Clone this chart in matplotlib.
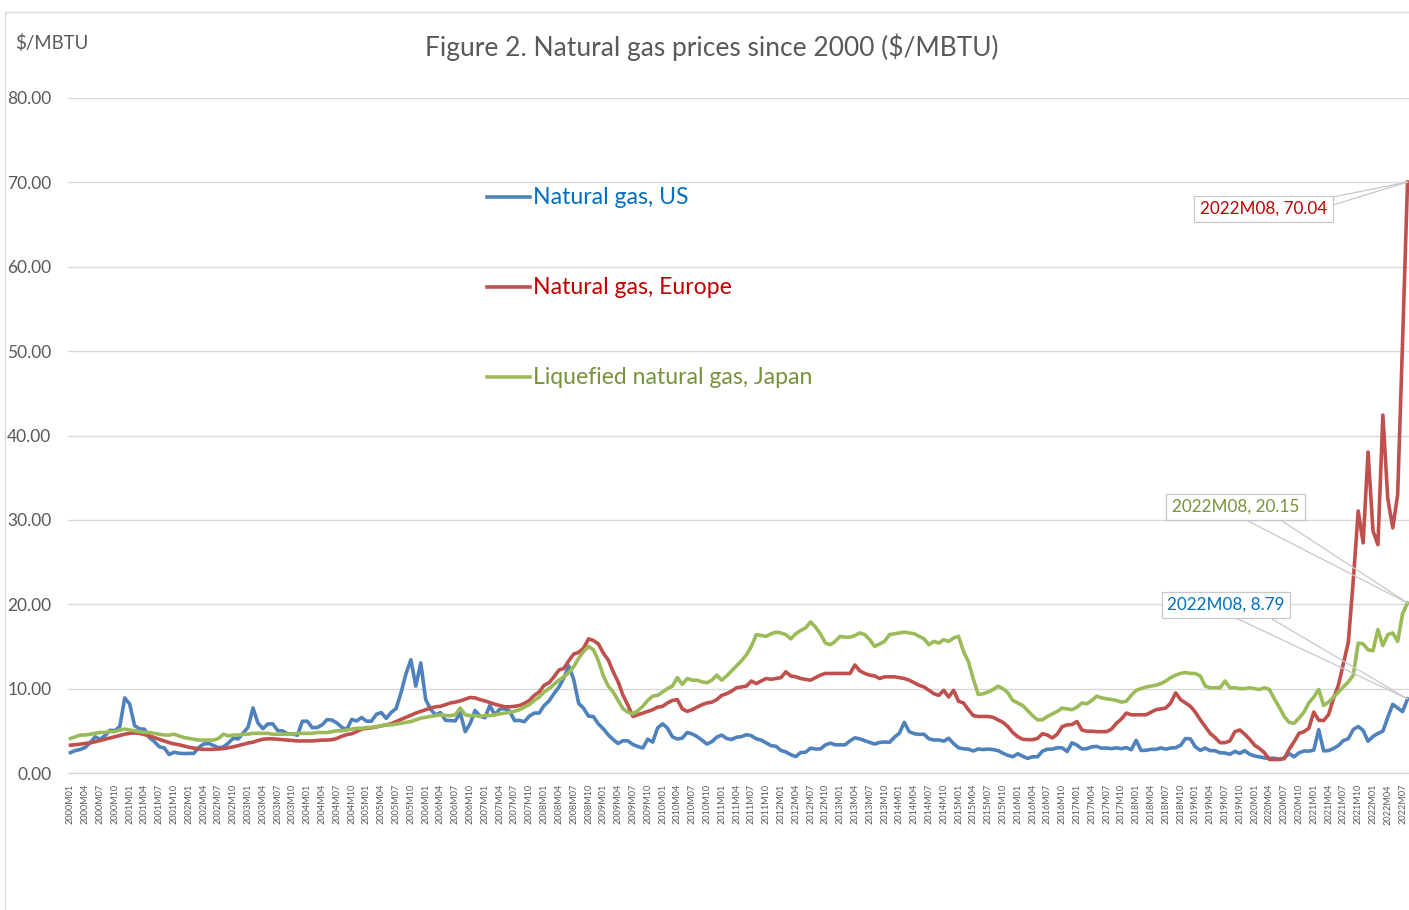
import matplotlib
matplotlib.use("Agg")
import matplotlib.pyplot as plt
from matplotlib.patches import Rectangle

plt.rcParams['font.family'] = ['Lato', 'DejaVu Sans']

# monthly categories 2000M01 .. 2022M08
months = ["%dM%02d" % (y, m) for y in range(2000, 2023) for m in range(1, 13)][:272]

# $/MBTU
gas_us = [
    2.42, 2.66, 2.79, 3.04, 3.59, 4.29, 3.99, 4.43, 5.06, 5.02, 5.52, 8.90,   # 2000
    8.17, 5.61, 5.23, 5.19, 4.19, 3.72, 3.11, 2.97, 2.19, 2.46, 2.34, 2.30,   # 2001
    2.32, 2.32, 3.03, 3.43, 3.50, 3.26, 2.99, 3.09, 3.55, 4.13, 4.04, 4.74,   # 2002
    5.43, 7.71, 5.93, 5.26, 5.81, 5.82, 5.03, 4.99, 4.62, 4.63, 4.47, 6.13,   # 2003
    6.14, 5.37, 5.39, 5.71, 6.33, 6.27, 5.93, 5.41, 5.15, 6.35, 6.17, 6.58,   # 2004
    6.15, 6.14, 6.96, 7.16, 6.47, 7.18, 7.63, 9.53, 11.75, 13.42, 10.30, 13.05,  # 2005
    8.69, 7.54, 6.89, 7.16, 6.25, 6.21, 6.17, 7.14, 4.90, 5.85, 7.41, 6.73,   # 2006
    6.55, 8.00, 6.90, 7.56, 7.63, 7.35, 6.21, 6.23, 6.08, 6.74, 7.10, 7.11,   # 2007
    7.99, 8.54, 9.41, 10.18, 11.27, 12.69, 11.09, 8.26, 7.67, 6.74, 6.68, 5.82,  # 2008
    5.24, 4.52, 3.96, 3.50, 3.83, 3.80, 3.38, 3.14, 2.96, 4.01, 3.66, 5.33,   # 2009
    5.83, 5.32, 4.29, 4.03, 4.14, 4.80, 4.63, 4.32, 3.89, 3.43, 3.71, 4.25,   # 2010
    4.49, 4.09, 3.97, 4.24, 4.31, 4.54, 4.42, 4.05, 3.90, 3.57, 3.24, 3.17,   # 2011
    2.67, 2.50, 2.17, 1.95, 2.43, 2.46, 2.95, 2.84, 2.85, 3.32, 3.54, 3.34,   # 2012
    3.33, 3.33, 3.81, 4.17, 4.04, 3.83, 3.62, 3.43, 3.62, 3.68, 3.64, 4.24,   # 2013
    4.71, 6.00, 4.90, 4.66, 4.58, 4.59, 4.05, 3.91, 3.92, 3.78, 4.12, 3.48,   # 2014
    2.99, 2.87, 2.83, 2.61, 2.85, 2.78, 2.84, 2.77, 2.66, 2.34, 2.09, 1.93,   # 2015
    2.28, 1.99, 1.73, 1.92, 1.92, 2.59, 2.82, 2.82, 2.99, 2.98, 2.55, 3.58,   # 2016
    3.30, 2.85, 2.88, 3.10, 3.15, 2.94, 2.96, 2.89, 2.98, 2.88, 3.01, 2.76,   # 2017
    3.87, 2.67, 2.69, 2.80, 2.80, 2.97, 2.83, 2.96, 3.00, 3.28, 4.09, 4.04,   # 2018
    3.10, 2.69, 2.95, 2.65, 2.64, 2.40, 2.37, 2.22, 2.56, 2.33, 2.65, 2.22,   # 2019
    2.02, 1.91, 1.79, 1.74, 1.75, 1.63, 1.77, 2.30, 1.92, 2.39, 2.61, 2.59,   # 2020
    2.71, 5.13, 2.62, 2.66, 2.91, 3.26, 3.84, 4.07, 5.16, 5.51, 5.05, 3.76,   # 2021
    4.33, 4.69, 4.96, 6.60, 8.14, 7.70, 7.28, 8.79,                           # 2022
]

gas_europe = [
    3.30, 3.35, 3.42, 3.50, 3.58, 3.70, 3.85, 4.00, 4.15, 4.30, 4.45, 4.60,
    4.70, 4.75, 4.70, 4.55, 4.40, 4.20, 4.00, 3.80, 3.60, 3.45, 3.35, 3.20,
    3.05, 2.95, 2.85, 2.80, 2.80, 2.80, 2.85, 2.90, 3.00, 3.10, 3.25, 3.40,
    3.55, 3.65, 3.85, 4.00, 4.05, 4.05, 4.00, 3.95, 3.90, 3.85, 3.80, 3.80,
    3.80, 3.80, 3.85, 3.90, 3.90, 3.95, 4.10, 4.35, 4.55, 4.65, 4.90, 5.20,
    5.30, 5.35, 5.45, 5.60, 5.70, 5.85, 6.10, 6.35, 6.60, 6.85, 7.10, 7.30,
    7.50, 7.70, 7.85, 7.90, 8.10, 8.30, 8.40, 8.55, 8.75, 8.95, 8.90, 8.70,
    8.55, 8.35, 8.15, 8.00, 7.85, 7.85, 7.90, 8.00, 8.25, 8.60, 9.20, 9.60,
    10.40, 10.70, 11.40, 12.20, 12.40, 13.30, 14.10, 14.30, 14.80, 15.90, 15.70, 15.30,
    14.20, 13.40, 12.00, 10.80, 9.20, 8.00, 6.70, 6.90, 7.10, 7.30, 7.50, 7.80,
    7.90, 8.30, 8.60, 8.70, 7.60, 7.30, 7.50, 7.80, 8.10, 8.30, 8.40, 8.70,
    9.20, 9.40, 9.70, 10.10, 10.20, 10.30, 10.90, 10.60, 10.90, 11.20, 11.10, 11.20,
    11.30, 12.00, 11.50, 11.40, 11.20, 11.10, 11.00, 11.30, 11.60, 11.80, 11.80, 11.80,
    11.80, 11.80, 11.80, 12.80, 12.10, 11.80, 11.60, 11.50, 11.20, 11.40, 11.40, 11.40,
    11.30, 11.20, 11.00, 10.70, 10.40, 10.20, 9.80, 9.40, 9.20, 9.80, 9.00, 9.80,
    8.50, 8.30, 7.50, 6.80, 6.70, 6.70, 6.70, 6.60, 6.30, 6.00, 5.50, 4.80,
    4.30, 4.00, 3.95, 3.95, 4.10, 4.66, 4.50, 4.15, 4.60, 5.50, 5.70, 5.75,
    6.10, 5.10, 4.95, 4.95, 4.90, 4.90, 4.90, 5.20, 5.90, 6.40, 7.10, 6.90,
    6.90, 6.90, 6.90, 7.20, 7.50, 7.60, 7.70, 8.30, 9.50, 8.70, 8.30, 7.90,
    7.20, 6.30, 5.50, 4.70, 4.20, 3.60, 3.60, 3.80, 4.90, 5.10, 4.60, 4.00,
    3.30, 2.90, 2.40, 1.60, 1.60, 1.60, 1.70, 2.80, 3.70, 4.70, 4.90, 5.30,
    7.22, 6.25, 6.22, 6.93, 8.84, 10.44, 12.99, 15.50, 22.80, 31.05, 27.28, 38.05,
    28.69, 27.06, 42.42, 32.49, 29.05, 33.01, 51.27, 70.04,
]

lng_japan = [
    4.10, 4.30, 4.50, 4.50, 4.60, 4.70, 4.80, 4.80, 4.90, 4.90, 5.10, 5.20,
    5.10, 5.00, 4.90, 4.80, 4.80, 4.70, 4.60, 4.50, 4.50, 4.60, 4.40, 4.20,
    4.10, 4.00, 3.90, 3.90, 3.90, 3.90, 4.10, 4.60, 4.40, 4.50, 4.50, 4.60,
    4.60, 4.70, 4.70, 4.70, 4.70, 4.60, 4.60, 4.60, 4.60, 4.60, 4.70, 4.70,
    4.70, 4.70, 4.80, 4.80, 4.80, 4.90, 5.00, 5.00, 5.10, 5.20, 5.30, 5.30,
    5.40, 5.40, 5.50, 5.60, 5.70, 5.70, 5.80, 5.90, 6.00, 6.10, 6.30, 6.50,
    6.60, 6.70, 6.80, 6.90, 6.80, 6.80, 6.90, 7.70, 6.90, 6.80, 6.80, 6.70,
    6.80, 6.80, 6.90, 7.00, 7.10, 7.20, 7.30, 7.50, 7.80, 8.10, 8.60, 9.00,
    9.60, 10.00, 10.50, 11.00, 11.40, 11.90, 12.60, 13.60, 14.40, 15.00, 14.60, 13.30,
    11.50, 10.30, 9.60, 8.60, 7.60, 7.20, 7.00, 7.40, 7.90, 8.60, 9.10, 9.20,
    9.60, 10.00, 10.30, 11.30, 10.50, 11.20, 11.00, 11.00, 10.80, 10.70, 11.00, 11.60,
    11.00, 11.50, 12.10, 12.70, 13.30, 14.00, 15.00, 16.40, 16.30, 16.20, 16.50, 16.70,
    16.60, 16.40, 15.90, 16.50, 16.90, 17.20, 17.90, 17.30, 16.50, 15.40, 15.20, 15.60,
    16.20, 16.10, 16.10, 16.30, 16.60, 16.40, 15.80, 15.00, 15.30, 15.60, 16.40, 16.50,
    16.60, 16.70, 16.60, 16.50, 16.20, 15.90, 15.20, 15.60, 15.40, 15.80, 15.60, 16.00,
    16.20, 14.40, 13.20, 11.10, 9.30, 9.40, 9.60, 9.90, 10.30, 10.00, 9.50, 8.60,
    8.30, 8.00, 7.40, 6.80, 6.30, 6.30, 6.70, 7.00, 7.30, 7.70, 7.60, 7.50,
    7.80, 8.30, 8.20, 8.60, 9.10, 8.90, 8.80, 8.70, 8.60, 8.40, 8.50, 9.20,
    9.80, 10.00, 10.20, 10.30, 10.40, 10.60, 10.90, 11.30, 11.60, 11.80, 11.90, 11.80,
    11.80, 11.50, 10.30, 10.10, 10.10, 10.10, 10.90, 10.10, 10.10, 10.00, 10.00, 10.10,
    10.00, 9.90, 10.10, 9.90, 8.80, 7.80, 6.70, 6.00, 5.90, 6.50, 7.20, 8.30,
    9.00, 9.90, 8.00, 8.40, 9.00, 9.60, 10.20, 10.80, 11.60, 15.40, 15.30, 14.60,
    14.50, 17.00, 15.10, 16.40, 16.60, 15.60, 18.90, 20.15,
]

series = [
    ("Natural gas, US", gas_us, "#4f81bd", "#0070c0"),
    ("Natural gas, Europe", gas_europe, "#c0504d", "#c00000"),
    ("Liquefied natural gas, Japan", lng_japan, "#9bbb59", "#77933c"),
]

W, H = 1409, 910
GRID = "#d9d9d9"
TXT = "#595959"


def px(x, y):
    # figure pixel -> axes fraction (plot area 68..1410 x 98..773)
    return (x - 68.0) / 1342.0, (773.0 - y) / 675.0


fig = plt.figure(figsize=(W / 100.0, H / 100.0), dpi=100)
ax = fig.add_axes([68.0 / W, 1 - 773.0 / H, 1342.0 / W, 675.0 / H])

x = list(range(len(months)))
for name, vals, col, tcol in series:
    ax.plot(x, vals, color=col, lw=2.6, solid_joinstyle='round', zorder=3)

ax.set_xlim(-0.5, len(months) - 0.5)
ax.set_ylim(0, 80)
ax.set_yticks(range(0, 81, 10))
ax.set_yticklabels(["%.2f" % v for v in range(0, 81, 10)])
ax.grid(axis='y', color=GRID, lw=1.0)
ax.set_axisbelow(True)
for s in ['top', 'right', 'left']:
    ax.spines[s].set_visible(False)
ax.spines['bottom'].set_color(GRID)
ax.spines['bottom'].set_linewidth(1.0)
ax.tick_params(axis='y', length=0, pad=12, labelsize=12.5, labelcolor=TXT)
ax.tick_params(axis='x', length=0, pad=8, labelsize=6.6, labelcolor=TXT)
ax.set_xticks(x[::3])
ax.set_xticklabels(months[::3], rotation=90, va='top', ha='center')

# title and unit
fig.text(712.0 / W, 1 - 47.0 / H, "Figure 2. Natural gas prices since 2000 ($/MBTU)",
         ha='center', va='center', fontsize=19, color=TXT)
fig.text(15.0 / W, 1 - 43.0 / H, "$/MBTU", ha='left', va='center', fontsize=13.4, color=TXT)

# legend, drawn by hand in the middle of the plot
for k, (name, vals, col, tcol) in enumerate(series):
    yy = 197 + 90 * k
    x0, y0 = px(487, yy)
    x1, _ = px(530, yy)
    ax.plot([x0, x1], [y0, y0], transform=ax.transAxes, color=col, lw=2.6, clip_on=False)
    tx, _ = px(533, yy)
    ax.text(tx, y0, name, transform=ax.transAxes, ha='left', va='center',
            fontsize=16.6, color=tcol)

# data callouts for the last month
callouts = [
    (gas_europe, "#c00000", (1263.5, 209), [(1333, 197), (1333, 205)]),
    (lng_japan, "#77933c", (1235.5, 507), [(1248, 521), (1282, 521)]),
    (gas_us, "#0070c0", (1226, 605), [(1238, 619), (1272, 619)]),
]
to_axes = ax.transAxes.inverted()
for vals, tcol, centre, base in callouts:
    i = len(vals) - 1
    tip = to_axes.transform(ax.transData.transform((i, vals[i])))
    for bx, by in base:
        b = px(bx, by)
        ax.plot([b[0], tip[0]], [b[1], tip[1]], transform=ax.transAxes,
                color="#c8c8c8", lw=0.9, clip_on=False, zorder=4)
    cx, cy = px(*centre)
    ax.text(cx, cy, "%s, %.2f" % (months[i], vals[i]), transform=ax.transAxes,
            ha='center', va='center', fontsize=12.3, color=tcol, zorder=5,
            bbox=dict(boxstyle='square,pad=0.32', fc='white', ec="#c8c8c8", lw=0.9))

# light frame around the chart
fig.add_artist(Rectangle((5.0 / W, -0.05), 1.2, 1.05 - 12.0 / H, transform=fig.transFigure,
                         fill=False, ec=GRID, lw=1.0))

fig.savefig("out.png", dpi=100)
